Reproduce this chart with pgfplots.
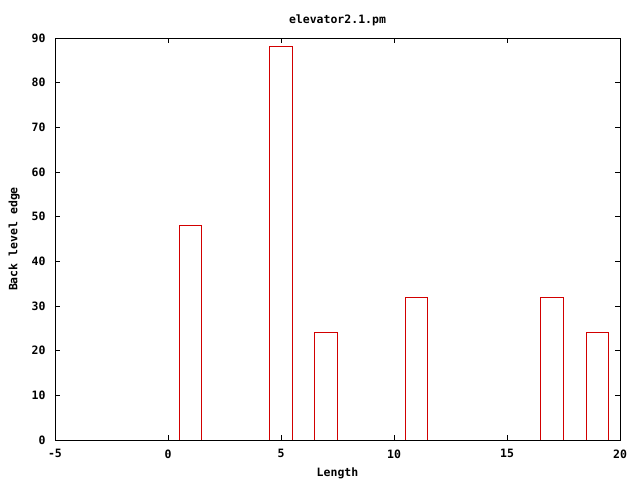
\documentclass[border=0pt]{standalone}
\usepackage{pgfplots}
\pgfplotsset{compat=1.18}
\usepackage{fontspec}
\setmainfont{DejaVu Sans Mono}[BoldFont={DejaVu Sans Mono Bold}]
\definecolor{barred}{RGB}{210,0,0}
\begin{document}
\begin{tikzpicture}[x=1pt,y=1pt]
\fill[white] (0,0) rectangle (640,480);
\path[use as bounding box] (0,0) rectangle (640,480);
\begin{axis}[
  at={(55pt,40pt)}, anchor=south west,
  scale only axis, width=565pt, height=402pt,
  xmin=-5, xmax=20, ymin=0, ymax=90,
  xtick={-5,0,5,10,15,20}, ytick={0,10,...,90},
  tick align=inside, major tick length=5pt,
  axis line style={line width=1pt, black},
  every tick/.style={black, line width=0.8pt},
  /pgf/number format/assume math mode=true,
  tick label style={font=\fontsize{11.5}{12}\selectfont\bfseries},
  yticklabel style={xshift=-6pt},
  xticklabel style={yshift=-6pt},
  title={elevator2.1.pm},
  title style={font=\fontsize{11.5}{12}\selectfont\bfseries, at={(0.5,1)}, yshift=3pt},
  xlabel={Length}, ylabel={Back level edge},
  label style={font=\fontsize{11.5}{12}\selectfont\bfseries},
  xlabel style={yshift=-3pt},
  ylabel style={yshift=5pt},
  unbounded coords=jump,
]
\addplot[color=barred, line width=1pt, mark=none] coordinates {
(0.5,0) (0.5,48) (1.5,48) (1.5,0) (nan,nan)
(4.5,0) (4.5,88) (5.5,88) (5.5,0) (nan,nan)
(6.5,0) (6.5,24) (7.5,24) (7.5,0) (nan,nan)
(10.5,0) (10.5,32) (11.5,32) (11.5,0) (nan,nan)
(16.5,0) (16.5,32) (17.5,32) (17.5,0) (nan,nan)
(18.5,0) (18.5,24) (19.5,24) (19.5,0)
};
\end{axis}
\end{tikzpicture}
\end{document}
